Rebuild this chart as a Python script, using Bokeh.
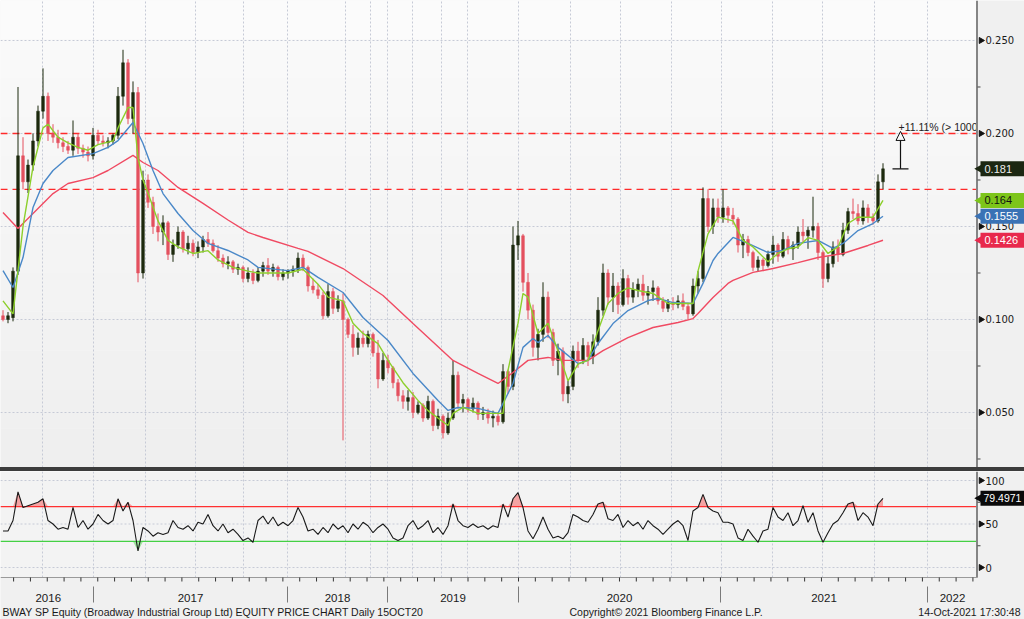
import numpy as np
from bokeh.plotting import figure
from bokeh.models import Range1d, Arrow, NormalHead, Spacer, ColumnDataSource
from bokeh.layouts import column
from bokeh.embed import file_html
from bokeh.resources import INLINE
from bokeh.core.properties import value

# ---------------- data (one bar per ~week of trading) ----------------
opens = [.102, .100, .101, .126, .188, .174, .183, .196, .212, .220,
         .200, .198, .195, .193, .191, .198, .192, .190, .188, .199,
         .196, .195, .196, .199, .220, .238, .208, .222, .125, .175,
         .163, .150, .147, .152, .135, .140, .147, .138, .141, .136,
         .139, .143, .141, .137, .133, .130, .131, .127, .128, .122,
         .125, .121, .126, .129, .126, .128, .123, .125, .126, .127,
         .133, .128, .118, .116, .113, .102, .115, .106, .110, .100,
         .092, .085, .090, .087, .092, .082, .068, .078, .074, .066,
         .059, .056, .058, .050, .054, .047, .056, .043, .048, .039,
         .047, .070, .055, .057, .052, .055, .049, .050, .047, .048,
         .045, .072, .064, .140, .145, .120, .105, .085, .092, .112,
         .093, .078, .083, .060, .064, .083, .078, .086, .080, .088,
         .105, .125, .112, .118, .108, .122, .112, .116, .119, .113,
         .115, .117, .110, .106, .109, .108, .110, .107, .103, .118,
         .122, .165, .150, .160, .155, .160, .156, .154, .140, .143,
         .136, .128, .132, .129, .135, .140, .134, .143, .138, .140,
         .147, .145, .148, .150, .136, .122, .130, .139, .135, .148,
         .158, .157, .153, .160, .155, .153, .174]
highs = [.105, .104, .128, .225, .198, .186, .200, .215, .235, .222,
         .205, .202, .198, .196, .207, .200, .194, .193, .203, .202,
         .199, .198, .200, .225, .245, .240, .228, .225, .180, .178,
         .166, .157, .156, .153, .143, .150, .148, .145, .143, .142,
         .145, .147, .143, .140, .135, .134, .132, .130, .129, .128,
         .127, .128, .131, .133, .130, .129, .127, .127, .129, .136,
         .135, .129, .122, .119, .115, .119, .117, .113, .114, .101,
         .097, .093, .094, .094, .093, .089, .082, .081, .075, .068,
         .062, .062, .061, .056, .055, .059, .057, .052, .049, .050,
         .078, .072, .060, .058, .058, .056, .053, .052, .051, .050,
         .076, .073, .150, .153, .146, .125, .108, .095, .120, .115,
         .095, .087, .085, .067, .086, .088, .090, .088, .092, .112,
         .130, .127, .125, .120, .127, .124, .120, .122, .124, .118,
         .121, .118, .112, .111, .112, .113, .114, .109, .122, .126,
         .171, .170, .165, .165, .170, .161, .160, .155, .146, .145,
         .137, .134, .133, .137, .145, .141, .147, .145, .142, .150,
         .154, .150, .166, .152, .137, .134, .142, .143, .152, .160,
         .165, .162, .164, .162, .157, .178, .184]
lows = [.099, .098, .099, .124, .170, .168, .180, .193, .208, .196,
        .195, .192, .190, .189, .188, .189, .187, .185, .186, .194,
        .193, .192, .194, .197, .215, .205, .200, .120, .122, .160,
        .146, .142, .140, .132, .131, .138, .136, .135, .134, .133,
        .136, .139, .136, .131, .128, .127, .125, .124, .120, .120,
        .119, .120, .123, .124, .123, .121, .121, .122, .123, .125,
        .126, .115, .114, .111, .100, .101, .103, .104, .035, .090,
        .080, .081, .085, .085, .080, .063, .067, .071, .063, .056,
        .052, .051, .047, .049, .045, .046, .040, .041, .036, .038,
        .046, .052, .050, .050, .050, .046, .046, .044, .042, .043,
        .044, .060, .062, .132, .115, .100, .080, .078, .088, .090,
        .075, .070, .056, .055, .062, .074, .076, .075, .076, .086,
        .102, .108, .104, .103, .107, .108, .109, .112, .110, .108,
        .110, .108, .104, .104, .105, .106, .105, .100, .102, .114,
        .120, .147, .146, .152, .152, .152, .151, .136, .133, .134,
        .126, .126, .126, .128, .130, .131, .133, .135, .132, .138,
        .141, .138, .144, .132, .117, .120, .128, .131, .134, .146,
        .154, .151, .151, .152, .151, .152, .170]
closes = [.100, .102, .126, .188, .174, .183, .196, .212, .220, .200,
          .198, .195, .193, .191, .198, .192, .190, .188, .199, .196,
          .195, .196, .199, .220, .238, .208, .222, .125, .175, .163,
          .150, .147, .152, .135, .140, .147, .138, .141, .136, .139,
          .143, .141, .137, .133, .130, .131, .127, .128, .122, .125,
          .121, .126, .129, .126, .128, .123, .125, .126, .127, .133,
          .128, .118, .116, .113, .102, .115, .106, .110, .100, .092,
          .085, .090, .087, .092, .082, .068, .078, .074, .066, .059,
          .056, .058, .050, .054, .047, .056, .043, .048, .039, .047,
          .070, .055, .057, .052, .055, .049, .050, .047, .048, .045,
          .072, .064, .140, .145, .120, .105, .085, .092, .112, .093,
          .078, .083, .060, .064, .083, .078, .086, .080, .088, .105,
          .125, .112, .118, .108, .122, .112, .116, .119, .113, .115,
          .117, .110, .106, .109, .108, .110, .107, .103, .118, .122,
          .165, .150, .160, .155, .160, .156, .154, .140, .143, .136,
          .128, .132, .129, .135, .140, .134, .143, .138, .140, .147,
          .145, .148, .150, .136, .122, .130, .139, .135, .148, .158,
          .157, .153, .160, .155, .153, .174, .181]

# moving averages (bar number, value)
ma_fast_x = [0, 2, 4, 6, 8, 9, 11, 13, 15, 17, 19, 22, 23, 25, 26, 27, 28, 29, 31, 33,
             35, 38, 41, 43, 46, 49, 51, 57, 60, 63, 65, 68, 70, 72, 75, 77, 80, 83, 85, 89,
             90, 92, 95, 100, 101, 103, 104, 105, 107, 109, 111, 113, 115, 117, 119, 121, 123, 125, 127, 130,
             133, 135, 138, 139, 141, 143, 146, 148, 150, 153, 155, 157, 159, 161, 163, 165, 167, 169, 171, 174,
             176]
ma_fast_y = [.110, .103, .150, .182, .203, .205, .198, .195, .1925, .191, .194, .196, .203, .214, .214, .187, .175, .168, .153, .1425,
             .139, .1355, .137, .132, .128, .126, .125, .125, .127, .119, .112, .110, .098, .0925, .087, .078, .066, .0565, .051, .043,
             .0495, .0527, .0495, .0495, .0726, .098, .114, .112, .0925, .098, .083, .067, .076, .078, .094, .1086, .114, .117, .1156, .114,
             .1086, .1086, .1086, .126, .146, .155, .153, .1425, .139, .131, .1355, .138, .139, .144, .1425, .1355, .139, .1516, .155, .155,
             .164]
ma_mid_x = [0, 2, 4, 6, 8, 10, 13, 18, 21, 23, 26, 28, 30, 32, 35, 38, 41, 45, 49, 51,
            57, 60, 63, 68, 72, 77, 82, 87, 89, 91, 95, 99, 102, 104, 106, 107, 109, 111, 115, 117,
            119, 122, 125, 129, 131, 134, 138, 140, 142, 143, 146, 149, 153, 156, 159, 163, 166, 168, 171, 174,
            176]
ma_mid_y = [.1263, .1172, .1333, .1602, .1731, .1801, .1871, .1892, .1925, .1962, .2059, .1946, .1801, .1677, .1570, .1478, .1409, .1371, .1320, .1280,
            .1263, .1280, .1226, .1145, .1011, .0887, .0710, .0565, .0511, .0527, .0522, .0495, .0656, .0850, .0898, .0876, .0914, .0850, .0763, .0780,
            .0871, .0978, .1048, .1102, .1113, .1091, .1086, .1194, .1317, .1355, .1441, .1409, .1360, .1371, .1409, .1425, .1382, .1409, .1478, .1516,
            .1555]
ma_slow_x = [0, 3, 6, 10, 13, 18, 21, 26, 28, 31, 35, 40, 45, 49, 52, 59, 61, 68, 76, 82,
             90, 95, 99, 102, 105, 109, 112, 117, 120, 125, 130, 135, 138, 139, 142, 145, 146, 150, 154, 159,
             163, 168, 173, 176]
ma_slow_y = [.1575, .1489, .1570, .1677, .1731, .1763, .1801, .1882, .1844, .1801, .1710, .1624, .1535, .1468, .1441, .1382, .1366, .1274, .1129, .0978,
             .0780, .0710, .0656, .0715, .0780, .0796, .0780, .0780, .0833, .0903, .0957, .0984, .1005, .1032, .1118, .1194, .1210, .1253, .1274, .1306,
             .1333, .1355, .1398, .1426]

rsi = [42, 42, 54, 87, 69, 71, 73, 75, 79, 54, 50, 44, 46, 44, 69, 46, 54, 44, 50, 61,
       54, 50, 54, 79, 65, 75, 54, 19, 46, 42, 36, 40, 38, 40, 54, 46, 44, 48, 42, 52,
       50, 61, 48, 42, 50, 40, 44, 38, 31, 34, 29, 54, 59, 50, 58, 48, 52, 48, 54, 69,
       58, 42, 44, 38, 46, 40, 50, 44, 48, 40, 50, 44, 52, 48, 40, 46, 50, 44, 34, 31,
       34, 48, 54, 44, 48, 54, 40, 46, 38, 48, 73, 54, 48, 46, 50, 46, 48, 44, 48, 46,
       73, 58, 79, 86, 69, 42, 33, 44, 58, 44, 34, 36, 33, 40, 61, 58, 54, 52, 61, 73,
       75, 56, 54, 61, 46, 54, 48, 52, 44, 54, 48, 44, 38, 44, 50, 54, 48, 31, 65, 69,
       84, 69, 65, 63, 52, 52, 50, 34, 31, 44, 36, 29, 42, 44, 69, 58, 54, 63, 48, 54,
       71, 52, 63, 42, 29, 40, 50, 54, 63, 73, 75, 54, 63, 58, 48, 73, 79.4971]

resistance_levels = [0.200, 0.170]
rsi_upper, rsi_lower = 70, 30
measure_pct = 11.11

years = ["2016", "2017", "2018", "2019", "2020", "2021", "2022"]
year_starts = [0.0, 18.1, 56.9, 76.9, 103.1, 143.5, 184.9]   # bar position where each year begins
quarter_lines = [7.9, 18.1, 28.5, 38.5, 48.1, 56.9, 68.5, 73.5, 76.9, 81.9, 87.7, 92.9,
                 103.1, 113.5, 123.5, 133.7, 143.7, 153.9, 163.9, 174.3, 184.9]

price_ticks = [0.05, 0.10, 0.15, 0.20, 0.25]
price_minor = [0.025, 0.075, 0.125, 0.175, 0.225]
rsi_ticks = [0, 50, 100]
rsi_minor = [25, 75]
footer_left = "BWAY SP Equity (Broadway Industrial Group Ltd) EQUITY PRICE CHART  Daily 15OCT20"
footer_mid = "Copyright\u00a9 2021 Bloomberg Finance L.P."
footer_right = "14-Oct-2021 17:30:48"

# ---------------- layout helpers (screen pixel -> data units) ----------------
def bx(px):            # column in pixels -> bar number
    return (px - 2.5) / 5.0

def pv(px):            # row in price panel -> price
    return 0.2715 - px / 1860.0

def rv(px):            # row in the lower panel (page pixels) -> RSI units
    return (567 - px) / 0.87

DARK = "#1d2a0e"
REDC = "#e4505f"
GREEN_MA = "#8ccf2b"
BLUE_MA = "#4a88c8"
RED_MA = "#f04a62"
GRID = "#c6cad6"
AXBG = "#f0f0f0"
NUMFONT = value("DejaVu Sans")
TXTFONT = value("Liberation Sans")

XL, XR = bx(0), bx(1024)
PR = bx(977)                     # right edge of plotting area
x_range = Range1d(XL, XR)

o = np.array(opens); h = np.array(highs); l = np.array(lows); c = np.array(closes)
bars = np.arange(len(c))
src = ColumnDataSource(dict(x=bars, top=np.maximum(o, c), bottom=np.minimum(o, c),
                            high=h, low=l, color=np.where(c >= o, DARK, REDC)))

# ============================ price panel ============================
YB, YT = pv(467), pv(0)
p = figure(width=1024, height=467, x_range=x_range, y_range=Range1d(YB, YT),
           output_backend="svg", toolbar_location=None, x_axis_location=None,
           y_axis_location=None, min_border=0, background_fill_color="#f5f5f5",
           border_fill_color=AXBG, outline_line_color=None)
p.grid.visible = False

# soft vertical shading of the plotting area
bands = np.linspace(YT, YB, 13)
shades = ["#%02x%02x%02x" % (v, v, v) for v in np.linspace(251, 239, 12).astype(int)]
p.quad(left=XL, right=PR, top=bands[:-1], bottom=bands[1:], fill_color=shades, line_color=None)

p.segment(x0=quarter_lines, y0=YB, x1=quarter_lines, y1=YT, line_color=GRID, line_dash="2 2", line_width=1)
p.segment(x0=XL, y0=price_ticks, x1=PR, y1=price_ticks, line_color=GRID, line_dash="2 2", line_width=1)
p.segment(x0=XL, y0=resistance_levels, x1=PR, y1=resistance_levels, line_color="#ff2a2a",
          line_dash="7 5", line_width=1.3)

p.segment(x0="x", y0="low", x1="x", y1="high", color="color", line_width=1, source=src)
p.vbar(x="x", width=0.55, top="top", bottom="bottom", fill_color="color",
       line_color="color", line_width=0.5, source=src)

p.line(ma_slow_x, ma_slow_y, line_color=RED_MA, line_width=1.4)
p.line(ma_mid_x, ma_mid_y, line_color=BLUE_MA, line_width=1.4)
p.line(ma_fast_x, ma_fast_y, line_color=GREEN_MA, line_width=1.4)

# measurement annotation (+11.11 % above last close)
last = closes[-1]
target = last * (1 + measure_pct / 100)
mx = bx(900)
p.add_layout(Arrow(end=NormalHead(size=9, fill_color="#f8f8f8", line_color="#111111", line_width=1),
                   x_start=mx, y_start=last, x_end=mx, y_end=target,
                   line_color="#111111", line_width=1.2))
p.segment(x0=[bx(892)], y0=[last], x1=[bx(908)], y1=[last], line_color="#111111", line_width=1.2)
p.text(x=[bx(898)], y=[pv(126)], text=["+11.11% (> 1000"],
       text_font=TXTFONT, text_font_size="10.5px", text_color="#222222",
       text_baseline="middle", text_align="left")

# right axis area
p.quad(left=PR, right=XR, top=YT, bottom=YB, fill_color=AXBG, line_color=None)
p.segment(x0=[bx(976.5)], y0=[YB], x1=[bx(976.5)], y1=[YT], line_color="#858585", line_width=2)
p.segment(x0=PR, y0=price_minor, x1=bx(980), y1=price_minor, line_color="#444444", line_width=1)
p.scatter(x=bx(980.5), y=price_ticks, marker="triangle", size=6, angle=-np.pi / 2,
          fill_color="#111111", line_color="#111111")
p.text(x=bx(985), y=price_ticks, text=["%.3f" % t for t in price_ticks], text_font=NUMFONT,
       text_font_size="10px", text_color="#1a1a1a", text_baseline="middle")

# value tags
tag_vals = [closes[-1], ma_fast_y[-1], ma_mid_y[-1], ma_slow_y[-1]]
tag_text = ["%.3f" % closes[-1], "%.3f" % ma_fast_y[-1], "%.4f" % ma_mid_y[-1], "%.4f" % ma_slow_y[-1]]
tag_bg = ["#1c2712", "#7dc51a", "#3a72b5", "#e8294c"]
tag_fg = ["#eeeeee", "#111111", "#ffffff", "#ffffff"]
half = 7.5 / 1860.0
p.quad(left=bx(980), right=XR, top=[v + half for v in tag_vals], bottom=[v - half for v in tag_vals],
       fill_color=tag_bg, line_color=None)
p.scatter(x=bx(979), y=tag_vals, marker="triangle", size=9, angle=np.pi / 2,
          fill_color=tag_bg, line_color=None)
p.text(x=bx(984), y=tag_vals, text=tag_text, text_font=TXTFONT, text_font_size="11px",
       text_color=tag_fg, text_baseline="middle")

# ============================ RSI panel ============================
RB, RT = rv(619), rv(471)
AX = rv(577)                      # bottom edge of the RSI plotting area
r = figure(width=1024, height=148, x_range=x_range, y_range=Range1d(RB, RT),
           output_backend="svg", toolbar_location=None, x_axis_location=None,
           y_axis_location=None, min_border=0, background_fill_color="#f3f3f3",
           border_fill_color=AXBG, outline_line_color=None)
r.grid.visible = False

r.segment(x0=quarter_lines, y0=AX, x1=quarter_lines, y1=RT, line_color=GRID, line_dash="2 2")
r.segment(x0=XL, y0=rsi_ticks, x1=PR, y1=rsi_ticks, line_color=GRID, line_dash="2 2")

rsi_arr = np.array(rsi, dtype=float)
r.varea(x=bars, y1=rsi_upper, y2=np.maximum(rsi_arr, rsi_upper), fill_color="#f5a3a3")
r.varea(x=bars, y1=np.minimum(rsi_arr, rsi_lower), y2=rsi_lower, fill_color="#9fe39f")
r.segment(x0=[XL], y0=[rsi_upper], x1=[PR], y1=[rsi_upper], line_color="#ff3030", line_width=1.3)
r.segment(x0=[XL], y0=[rsi_lower], x1=[PR], y1=[rsi_lower], line_color="#44d044", line_width=1.3)
r.line(bars, rsi_arr, line_color="#1a1a1a", line_width=1.1)

# axis areas
r.quad(left=PR, right=XR, top=RT, bottom=RB, fill_color=AXBG, line_color=None)
r.quad(left=XL, right=XR, top=AX, bottom=RB, fill_color=AXBG, line_color=None)
r.segment(x0=[bx(976.5)], y0=[AX], x1=[bx(976.5)], y1=[RT], line_color="#858585", line_width=2)
r.segment(x0=[XL], y0=[AX], x1=[PR], y1=[AX], line_color="#9a9a9a", line_width=1)
r.segment(x0=PR, y0=rsi_minor, x1=bx(980), y1=rsi_minor, line_color="#444444", line_width=1)
r.scatter(x=bx(980.5), y=rsi_ticks, marker="triangle", size=6, angle=-np.pi / 2,
          fill_color="#111111", line_color="#111111")
r.text(x=bx(985), y=rsi_ticks, text=[str(t) for t in rsi_ticks], text_font=NUMFONT,
       text_font_size="10px", text_color="#1a1a1a", text_baseline="middle")

# time axis: small ticks, year separators, year names
tick_step = 3.366
minor_x = [103.1 + tick_step * k for k in range(-30, 28)]
r.segment(x0=minor_x, y0=AX, x1=minor_x, y1=rv(581), line_color="#333333", line_width=1)
r.segment(x0=year_starts[1:], y0=rv(586), x1=year_starts[1:], y1=rv(602), line_color="#7a7a7a", line_width=1)
bounds = year_starts + [PR]
year_mid = [(bounds[k] + bounds[k + 1]) / 2 for k in range(len(years))]
r.text(x=year_mid, y=rv(597), text=years, text_font=TXTFONT, text_font_size="11.5px",
       text_color="#1a1a1a", text_align="center", text_baseline="middle")

r.text(x=[bx(2)], y=[rv(611)], text=[footer_left], text_font=TXTFONT, text_font_size="10.5px",
       text_color="#1a1a1a", text_baseline="middle")
r.text(x=[bx(569)], y=[rv(611)], text=[footer_mid], text_font=TXTFONT, text_font_size="10.5px",
       text_color="#1a1a1a", text_baseline="middle")
r.text(x=[bx(1020)], y=[rv(611)], text=[footer_right], text_font=TXTFONT, text_font_size="10.5px",
       text_color="#1a1a1a", text_baseline="middle", text_align="right")

# RSI value tag
rh = 7.5 / 0.87
r.quad(left=[bx(980)], right=[XR], top=[rsi[-1] + rh], bottom=[rsi[-1] - rh],
       fill_color="#0a0a0a", line_color=None)
r.scatter(x=[bx(979)], y=[rsi[-1]], marker="triangle", size=9, angle=np.pi / 2,
          fill_color="#0a0a0a", line_color=None)
r.text(x=[bx(983)], y=[rsi[-1]], text=["%.4f" % rsi[-1]], text_font=TXTFONT, text_font_size="10.5px",
       text_color="#ffffff", text_baseline="middle")

sep = Spacer(width=1024, height=4, styles={"background-color": "#3c3c3c"})

layout = column(p, sep, r, spacing=0)
open("out.html", "w").write(file_html(layout, INLINE))
